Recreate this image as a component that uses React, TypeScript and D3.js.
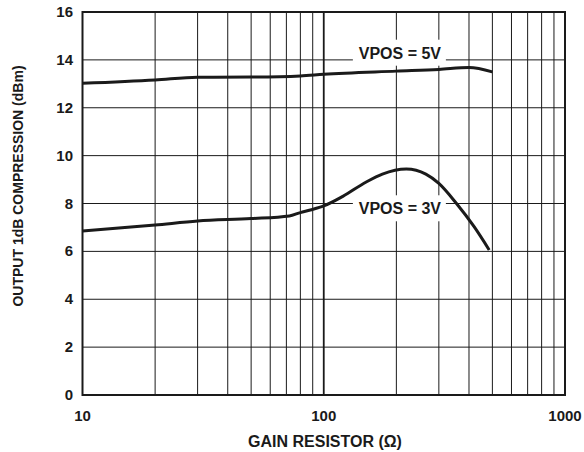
import React, { useEffect, useRef } from "react";
import * as d3 from "d3";

const xTicks = [10, 100, 1000];
const xTickLabels = ["10", "100", "1000"];
const yTicks = [0, 2, 4, 6, 8, 10, 12, 14, 16];

const vpos5R = [10, 20, 30, 50, 80, 100, 200, 300, 400, 500];
const vpos5 = [13.02, 13.16, 13.27, 13.28, 13.33, 13.4, 13.53, 13.6, 13.68, 13.5];

const vpos3R = [10, 20, 30, 50, 72, 80, 88, 100, 120, 150, 175, 220, 265, 300, 355, 420, 485];
const vpos3 = [6.85, 7.1, 7.27, 7.37, 7.48, 7.62, 7.73, 7.9, 8.3, 8.9, 9.23, 9.44, 9.23, 8.84, 8.0, 7.03, 6.06];

const labels = [
  { text: "VPOS = 5V", r: 200, v: 14.3 },
  { text: "VPOS = 3V", r: 200, v: 7.8 },
];

const W = 584;
const H = 452;
const M = { left: 82.5, right: 565, top: 12, bottom: 395 };
const FONT = "Arial, 'Liberation Sans', Helvetica, sans-serif";
const INK = "#1a1a1a";

export default function App() {
  const ref = useRef<SVGSVGElement | null>(null);

  useEffect(() => {
    const svg = d3.select(ref.current);
    svg.selectAll("*").remove();

    const x = d3.scaleLog().domain([10, 1000]).range([M.left, M.right]);
    const y = d3.scaleLinear().domain([0, 16]).range([M.bottom, M.top]);

    svg.append("rect").attr("width", W).attr("height", H).attr("fill", "#fff");

    // vertical grid
    const minor: number[] = [];
    for (const dec of [10, 100]) {
      for (let k = 2; k <= 9; k++) minor.push(dec * k);
    }
    svg
      .append("g")
      .selectAll("line")
      .data(minor)
      .join("line")
      .attr("x1", (d) => x(d))
      .attr("x2", (d) => x(d))
      .attr("y1", M.top)
      .attr("y2", M.bottom)
      .attr("stroke", INK)
      .attr("stroke-width", 1);

    svg
      .append("line")
      .attr("x1", x(100))
      .attr("x2", x(100))
      .attr("y1", M.top)
      .attr("y2", M.bottom)
      .attr("stroke", INK)
      .attr("stroke-width", 1.8);

    // horizontal grid
    svg
      .append("g")
      .selectAll("line")
      .data(yTicks.slice(1, -1))
      .join("line")
      .attr("x1", M.left)
      .attr("x2", M.right)
      .attr("y1", (d) => y(d))
      .attr("y2", (d) => y(d))
      .attr("stroke", INK)
      .attr("stroke-width", 1);

    // label boxes
    const lab = svg.append("g");
    labels.forEach((l) => {
      const cx = x(l.r) + 3.5;
      const cy = y(l.v);
      lab
        .append("rect")
        .attr("x", cx - 47)
        .attr("y", cy - 13)
        .attr("width", 93)
        .attr("height", 26)
        .attr("fill", "#fff");
      lab
        .append("text")
        .attr("x", cx)
        .attr("y", cy + 6)
        .attr("text-anchor", "middle")
        .attr("font-family", FONT)
        .attr("font-weight", "bold")
        .attr("font-size", 16)
        .attr("fill", INK)
        .text(l.text);
    });

    // frame
    svg
      .append("rect")
      .attr("x", M.left)
      .attr("y", M.top)
      .attr("width", M.right - M.left)
      .attr("height", M.bottom - M.top)
      .attr("fill", "none")
      .attr("stroke", INK)
      .attr("stroke-width", 2);

    // curves
    const line = d3
      .line<[number, number]>()
      .x((d) => x(d[0]))
      .y((d) => y(d[1]))
      .curve(d3.curveMonotoneX);

    const s5: [number, number][] = vpos5R.map((r, i) => [r, vpos5[i]]);
    const s3: [number, number][] = vpos3R.map((r, i) => [r, vpos3[i]]);
    [s5, s3].forEach((s) => {
      svg
        .append("path")
        .attr("d", line(s) as string)
        .attr("fill", "none")
        .attr("stroke", INK)
        .attr("stroke-width", 3)
        .attr("stroke-linejoin", "round");
    });

    // y tick labels
    svg
      .append("g")
      .selectAll("text")
      .data(yTicks)
      .join("text")
      .attr("x", 73)
      .attr("y", (d) => y(d) + 5)
      .attr("text-anchor", "end")
      .attr("font-family", FONT)
      .attr("font-weight", "bold")
      .attr("font-size", 15)
      .attr("fill", INK)
      .text((d) => String(d));

    // x tick labels
    svg
      .append("g")
      .selectAll("text")
      .data(xTicks)
      .join("text")
      .attr("x", (d) => x(d))
      .attr("y", 421)
      .attr("text-anchor", "middle")
      .attr("font-family", FONT)
      .attr("font-weight", "bold")
      .attr("font-size", 15)
      .attr("fill", INK)
      .text((d, i) => xTickLabels[i]);

    // axis titles
    svg
      .append("text")
      .attr("x", 325)
      .attr("y", 447)
      .attr("text-anchor", "middle")
      .attr("font-family", FONT)
      .attr("font-weight", "bold")
      .attr("font-size", 16)
      .attr("fill", INK)
      .text("GAIN RESISTOR (Ω)");

    svg
      .append("text")
      .attr("transform", "translate(23,186) rotate(-90)")
      .attr("text-anchor", "middle")
      .attr("font-family", FONT)
      .attr("font-weight", "bold")
      .attr("font-size", 14)
      .attr("fill", INK)
      .text("OUTPUT 1dB COMPRESSION (dBm)");
  }, []);

  return (
    <svg
      ref={ref}
      width={W}
      height={H}
      style={{ position: "absolute", left: 0, top: 0, display: "block" }}
    />
  );
}
